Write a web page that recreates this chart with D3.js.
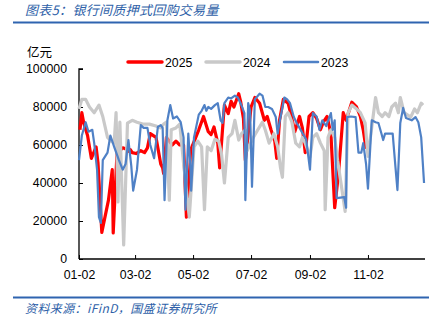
<!DOCTYPE html>
<html><head><meta charset="utf-8">
<script src="https://cdn.jsdelivr.net/npm/d3@7"></script>
<style>body{margin:0;background:#fff}svg{display:block}</style>
</head><body>
<svg id="c" width="440" height="331"></svg>
<script>
const title = "图表5：银行间质押式回购交易量";
const source = "资料来源：iFinD，国盛证券研究所";
const unit = "亿元";
const yTicks = [0, 20000, 40000, 60000, 80000, 100000];
const xTickLabels = ["01-02", "03-02", "05-02", "07-02", "09-02", "11-02"];
const seriesNames = ["2025", "2024", "2023"];

const dates2025 = ["01-03","01-05","01-07","01-11","01-15","01-20","01-22","01-26","02-02","02-06","02-07","02-11","02-14","02-17","02-20","02-22","02-25","02-27","03-03","03-08","03-12","03-15","03-18","03-24","03-29","03-31","04-01","04-04","04-07","04-10","04-14","04-18","04-22","04-25","04-30","05-08","05-13","05-18","05-21","05-24","05-28","05-30","06-03","06-04","06-08","06-11","06-14","06-19","06-21","06-24","06-26","07-02","07-06","07-11","07-16","07-19","07-23","07-27","07-29","08-01","08-05","08-10","08-13","08-17","08-22","08-25","08-28","09-01","09-05","09-09","09-13","09-16","09-20","09-24","09-28","10-02","10-07","10-10","10-16","10-21","10-25","10-28","10-31"];
const values2025 = [68000,77000,71500,65000,53000,59000,50500,14000,31000,47000,13700,56000,57000,58500,58000,56500,57500,56000,55500,57000,56000,58500,66000,64000,50000,48000,45000,64000,62000,60000,62000,60000,60000,22000,58000,68000,75000,67000,65500,69500,61000,48000,75000,81000,76500,83000,80000,87000,83000,74000,52000,80000,85000,82000,73000,75000,68000,62000,53000,73000,84000,82000,76000,67000,75000,69000,56000,75000,77000,74000,68000,72000,75000,66000,27000,45000,77000,73000,82500,80000,75000,68000,58000];

const dates2024 = ["01-02","01-05","01-09","01-13","01-18","01-23","01-27","02-01","02-05","02-08","02-10","02-12","02-14","02-18","02-22","02-27","03-04","03-10","03-17","03-24","03-29","04-01","04-04","04-07","04-09","04-14","04-18","04-22","04-28","05-03","05-07","05-11","05-14","05-17","05-21","05-25","05-29","06-01","06-04","06-08","06-12","06-15","06-19","06-22","06-26","06-28","07-04","07-09","07-14","07-17","07-21","07-26","07-30","08-02","08-04","08-07","08-10","08-14","08-18","08-22","08-25","08-28","09-02","09-05","09-09","09-13","09-17","09-18","09-21","09-24","09-28","10-01","10-04","10-09","10-12","10-16","10-21","10-25","10-30","11-02","11-06","11-10","11-13","11-17","11-20","11-24","11-27","12-01","12-04","12-06","12-10","12-17","12-21","12-24","12-28","12-30"];
const values2024 = [79000,84000,84000,80000,77000,81000,75000,64000,62000,61000,77000,30000,72000,7400,71500,73000,72000,71000,71000,70000,69000,71000,72000,31000,68000,69000,71000,50500,22000,59000,62000,59000,26000,59000,57000,63000,62000,55000,40000,64000,66000,73000,62600,66000,68000,57000,63600,67900,72000,67900,61000,66000,59000,48000,43000,75000,77000,72000,61000,59000,64000,61000,53700,64000,66000,61000,57000,26000,64000,68000,64000,52000,42000,25000,76800,81000,79000,77000,71600,54000,69500,85000,77000,75000,77000,75000,80000,82000,77000,85000,77000,74700,79000,77000,82000,81000];

const dates2023 = ["01-02","01-05","01-09","01-12","01-16","01-18","01-21","01-23","01-25","01-27","02-01","02-04","02-08","02-13","02-17","02-20","02-23","02-26","02-28","03-04","03-08","03-11","03-15","03-18","03-22","03-26","03-29","03-31","04-02","04-05","04-08","04-11","04-15","04-19","04-22","04-24","04-27","04-29","04-30","05-03","05-08","05-11","05-14","05-16","05-18","05-21","05-25","05-28","05-31","06-02","06-04","06-08","06-11","06-15","06-18","06-21","06-25","06-26","06-29","07-01","07-03","07-06","07-11","07-14","07-17","07-20","07-24","07-28","07-30","08-01","08-06","08-09","08-12","08-16","08-19","08-22","08-25","08-29","09-02","09-05","09-09","09-12","09-15","09-19","09-24","09-26","09-28","09-30","10-08","10-10","10-11","10-15","10-20","10-23","10-26","10-28","10-31","11-02","11-06","11-10","11-13","11-16","11-18","11-20","11-24","11-28","12-01","12-03","12-06","12-09","12-12","12-18","12-22","12-25","12-28","12-31"];
const values2023 = [52000,65000,72000,67000,68000,61000,47000,22000,19000,52000,56000,65000,59000,52000,47000,50000,62600,49000,36000,47000,70500,69000,69000,60000,53000,69500,70500,69000,31000,73000,81000,74000,75000,72000,64000,26000,66000,50000,36000,64000,76000,78000,81000,78000,80000,79000,81000,82000,73000,71600,82000,85000,84500,86000,85000,82000,76800,31000,82000,78000,38000,84000,87000,86000,80000,80000,79000,74700,66000,72000,85000,84000,82000,74700,71600,69000,66300,63000,47000,76800,75000,68000,73000,70000,76800,68000,73000,32000,32600,27000,74700,75000,74700,56000,56000,61000,50000,37000,73000,72000,71600,66300,62600,66000,66000,66000,48000,36300,71600,79500,74200,73000,74700,72000,64000,40000];

const parse = d3.timeParse("%Y-%m-%d");
const toDate = md => parse("2025-" + md);

const svg = d3.select("#c");
const x = d3.scaleTime().domain([toDate("01-02"), parse("2026-01-01")]).range([79, 425]);
const y = d3.scaleLinear().domain([0, 100000]).range([259, 69]);

// title & rules
svg.append("text").attr("x", 25).attr("y", 14.5).attr("fill", "#2e5fa8")
  .attr("font-family", "Noto Sans CJK SC").attr("font-style", "italic").attr("font-size", 13)
  .attr("letter-spacing", 0.3).text(title);
svg.append("line").attr("x1", 13).attr("x2", 429).attr("y1", 22.5).attr("y2", 22.5)
  .attr("stroke", "#2f64b0").attr("stroke-width", 2);
svg.append("line").attr("x1", 13).attr("x2", 429).attr("y1", 297.5).attr("y2", 297.5)
  .attr("stroke", "#2f64b0").attr("stroke-width", 2);
svg.append("text").attr("x", 25).attr("y", 312.5).attr("fill", "#2e5fa8")
  .attr("font-family", "Noto Sans CJK SC").attr("font-style", "italic").attr("font-size", 12)
  .attr("letter-spacing", 0.4).text(source);
svg.append("text").attr("x", 27).attr("y", 57).attr("fill", "#000")
  .attr("font-family", "Noto Sans CJK SC").attr("font-size", 12.5).text(unit);

// axes
const yAxis = d3.axisLeft(y).tickValues(yTicks).tickSize(-4).tickPadding(12).tickFormat(d3.format("d"));
const gy = svg.append("g").attr("transform", "translate(79,0)").call(yAxis);
gy.select(".domain").attr("d", "M4,69H0V259").attr("stroke", "#000").attr("stroke-width", 1.3);
gy.selectAll("text").attr("font-family", "Liberation Sans").attr("font-size", 12.3).attr("fill", "#000");

const xTickDates = xTickLabels.map(toDate);
const xAxis = d3.axisBottom(x).tickValues(xTickDates).tickSize(-4).tickPadding(11)
  .tickFormat((d, i) => xTickLabels[i]);
const gx = svg.append("g").attr("transform", "translate(0,259)").call(xAxis);
gx.select(".domain").attr("d", "M79,0H425").attr("stroke", "#000").attr("stroke-width", 1.3);
gx.selectAll("text").attr("font-family", "Liberation Sans").attr("font-size", 12.3).attr("fill", "#000");
svg.selectAll(".tick line").attr("stroke", "#000");

// series
const line = d3.line().x(d => x(d[0])).y(d => y(d[1]));
const series = [
  {name: "2025", dates: dates2025, values: values2025, color: "#ff0000", w: 3.2},
  {name: "2024", dates: dates2024, values: values2024, color: "#c9c9c9", w: 3.2},
  {name: "2023", dates: dates2023, values: values2023, color: "#4f81c6", w: 2.2}
];
series.forEach(s => {
  const pts = s.dates.map((d, i) => [toDate(d), s.values[i]]);
  svg.append("path").datum(pts).attr("d", line).attr("fill", "none")
    .attr("stroke", s.color).attr("stroke-width", s.w).attr("stroke-linejoin", "round");
});

// legend
const legX = [128, 206, 284];
series.forEach((s, i) => {
  svg.append("line").attr("x1", legX[i]).attr("x2", legX[i] + 34).attr("y1", 62).attr("y2", 62)
    .attr("stroke", s.color).attr("stroke-width", s.w + 0.3).attr("stroke-linecap", "round");
  svg.append("text").attr("x", legX[i] + 37).attr("y", 66.5).attr("font-family", "Liberation Sans")
    .attr("font-size", 12.3).attr("fill", "#000").text(seriesNames[i]);
});
</script>
</body></html>
